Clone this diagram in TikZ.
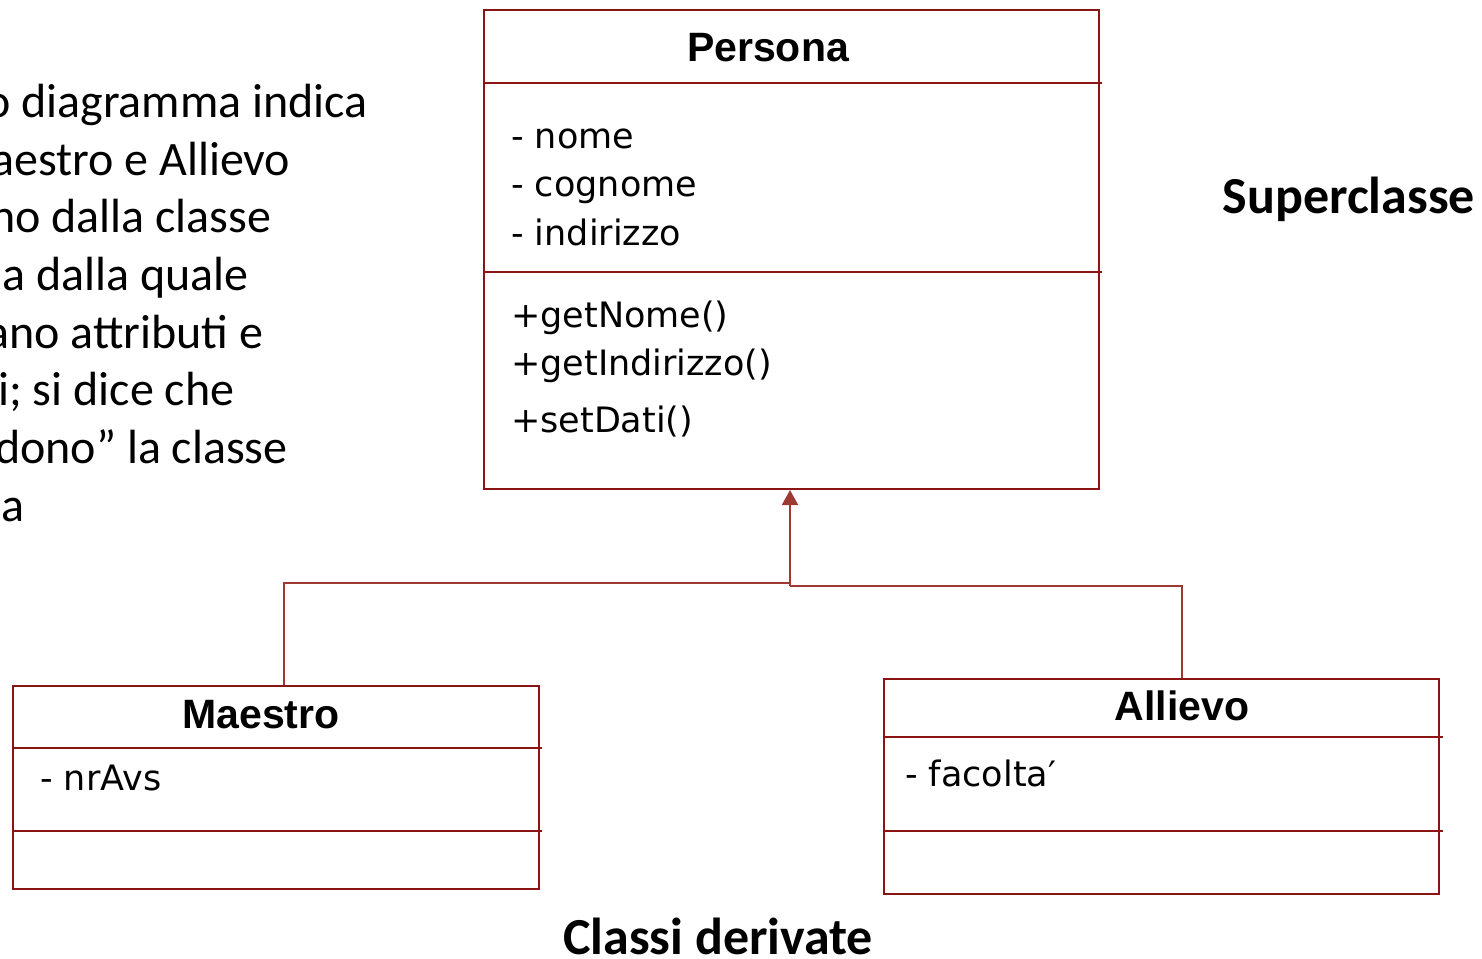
\documentclass[tikz,border=0pt]{standalone}
\usepackage{fontspec}
\setmainfont{Carlito}
\newfontfamily\umlfont{DejaVu Sans}
\newfontfamily\titlefont{Liberation Sans}
\usetikzlibrary{arrows.meta}
\definecolor{boxred}{RGB}{139,20,20}
\definecolor{connred}{RGB}{158,58,52}
\tikzset{
  umlbox/.style={draw=boxred,line width=2pt,inner sep=0pt,anchor=north west},
  sep/.style={draw=boxred,line width=2pt},
  conn/.style={draw=connred,line width=2pt},
  ttl/.style={anchor=base,inner sep=0pt,font=\titlefont\bfseries\fontsize{41}{48}\selectfont},
  attr/.style={anchor=base west,inner sep=0pt,font=\umlfont\fontsize{35}{42}\selectfont},
  side/.style={anchor=base west,inner sep=0pt,font=\fontsize{48}{58}\selectfont},
  big/.style={anchor=base,inner sep=0pt,font=\bfseries\fontsize{52}{62}\selectfont}
}
\begin{document}
\begin{tikzpicture}[x=1pt,y=-1pt]
\useasboundingbox (0,0) rectangle (1482,958);
\clip (0,0) rectangle (1482,958);
% left text (cut by the page edge)
\node[side] (l1) at (-15,117) {o diagramma indica};
\node[side] (l2) at (-9,175) {aestro e Allievo};
\node[side] (l3) at (-10,232) {no dalla classe};
\node[side] (l4) at (2,290) {a dalla quale};
\node[side] (l5) at (-14,348) {ano attributi e};
\node[side] (l6) at (-2,405) {i; si dice che};
\node[side] (l7) at (-5,463) {dono” la classe};
\node[side] (l8) at (1,521) {a};
% Persona
\node[umlbox,minimum width=615pt,minimum height=479pt] (persona) at (483,9) {};
\draw[sep] (483,83) -- (1102,83);
\draw[sep] (483,272) -- (1102,272);
\node[ttl] (pt) at (768,62) {Persona};
\node[attr] (pa1) at (511,148) {- nome};
\node[attr] (pa2) at (511,196) {- cognome};
\node[attr] (pa3) at (511,245) {- indirizzo};
\node[attr] (pm1) at (511,327) {+getNome()};
\node[attr] (pm2) at (511,375) {+getIndirizzo()};
\node[attr] (pm3) at (511,432) {+setDati()};
% Maestro
\node[umlbox,minimum width=526pt,minimum height=203pt] (maestro) at (12,685) {};
\draw[sep] (12,748) -- (542,748);
\draw[sep] (12,831) -- (542,831);
\node[ttl] (mt) at (261,728) {Maestro};
\node[attr] (ma1) at (40,790) {- nrAvs};
% Allievo
\node[umlbox,minimum width=555pt,minimum height=215pt] (allievo) at (883,678) {};
\draw[sep] (883,737) -- (1443,737);
\draw[sep] (883,831) -- (1443,831);
\node[ttl] (at) at (1182,720) {Allievo};
\node[attr] (aa1) at (905,786) {- facolta′};
% connectors
\coordinate (jm) at (284,583);
\coordinate (j1) at (790,583);
\coordinate (ja) at (1182,586);
\coordinate (j2) at (790,586);
\draw[conn] (jm |- maestro.north) -- (jm) -- (j1) -- (j2);
\draw[conn] (ja |- allievo.north) -- (ja) -- (j2);
\draw[conn,-{Triangle[width=16pt,length=15pt]}] (j2) -- (j2 |- persona.south);
% labels
\node[big] (sup) at (1349,213) {Superclasse};
\node[big] (der) at (718,954) {Classi derivate};
\end{tikzpicture}
\end{document}
